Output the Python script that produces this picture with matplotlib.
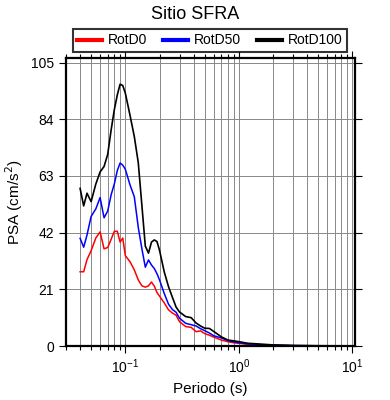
import numpy as np
import matplotlib
matplotlib.use("Agg")
import matplotlib.pyplot as plt
from matplotlib.ticker import LogLocator, FixedLocator

plt.rcParams['font.family'] = ['Liberation Sans', 'DejaVu Sans']

# periods (s)
periodo = [0.04, 0.043, 0.046, 0.05, 0.055, 0.06, 0.065, 0.07, 0.075, 0.08,
           0.085, 0.09, 0.095, 0.1, 0.11, 0.12, 0.13, 0.14, 0.15, 0.16,
           0.17, 0.18, 0.19, 0.2, 0.22, 0.24, 0.26, 0.28, 0.3, 0.34,
           0.38, 0.42, 0.46, 0.5, 0.55, 0.6, 0.7, 0.8, 0.9, 1.0,
           1.2, 1.5, 2.0, 3.0, 5.0, 7.5, 10.0]

rotd0 = [27.5, 27.5, 32.0, 35.3, 40.0, 42.3, 36.0, 36.5, 39.5, 42.5,
         42.5, 38.5, 40.0, 33.5, 31.2, 28.2, 24.5, 22.3, 21.8, 22.3,
         23.7, 22.2, 19.8, 18.5, 16.0, 13.4, 12.2, 11.4, 9.0, 7.2,
         6.9, 5.3, 5.6, 4.6, 4.0, 3.3, 2.2, 1.6, 1.2, 1.0,
         0.6, 0.4, 0.25, 0.1, 0.05, 0.03, 0.02]

rotd50 = [39.9, 36.6, 41.1, 48.0, 50.8, 55.0, 47.5, 50.0, 56.0, 60.0,
          65.0, 67.8, 67.0, 65.5, 59.7, 55.3, 44.0, 36.0, 29.2, 31.9,
          30.0, 28.7, 26.8, 24.5, 19.5, 15.5, 13.5, 12.5, 10.3, 8.4,
          7.9, 7.4, 6.4, 5.7, 4.8, 3.8, 3.0, 2.0, 1.5, 1.2,
          0.8, 0.5, 0.3, 0.15, 0.08, 0.04, 0.02]

rotd100 = [58.4, 51.9, 56.6, 53.5, 60.0, 64.5, 66.5, 71.0, 80.0, 87.5,
           93.0, 97.0, 96.5, 93.7, 85.5, 77.6, 68.0, 52.0, 37.0, 34.4,
           38.5, 39.3, 38.7, 35.5, 27.5, 22.0, 18.0, 14.4, 12.6, 10.9,
           10.5, 8.5, 7.4, 6.6, 6.5, 5.4, 3.4, 2.2, 1.9, 1.6,
           1.0, 0.75, 0.4, 0.2, 0.1, 0.05, 0.03]

y_ticks = [0, 21, 42, 63, 84, 105]

fig = plt.figure(figsize=(3.9, 4.0), dpi=100)
ax = fig.add_axes([0.169, 0.135, 0.741, 0.72])

l0, = ax.plot(periodo, rotd0, color='red', lw=1.1, label='RotD0')
l50, = ax.plot(periodo, rotd50, color='blue', lw=1.1, label='RotD50')
l100, = ax.plot(periodo, rotd100, color='black', lw=1.2, label='RotD100')

ax.set_xscale('log')
ax.set_xlim(0.03, 10.5)
ax.set_ylim(0, 106.7)
ax.yaxis.set_major_locator(FixedLocator(y_ticks))
ax.xaxis.set_major_locator(LogLocator(base=10))
ax.xaxis.set_minor_locator(LogLocator(base=10, subs=np.arange(2, 10)))

ax.grid(True, which='major', color='#888888', lw=0.7)
ax.grid(True, which='minor', axis='x', color='#888888', lw=0.7)
ax.set_axisbelow(True)

for s in ax.spines.values():
    s.set_linewidth(1.6)
ax.tick_params(which='both', direction='out', top=True, right=True,
               labelsize=10, width=0.8)
ax.tick_params(which='major', length=5)
ax.tick_params(which='minor', length=3)

ax.set_xlabel('Periodo (s)', fontsize=11)
ax.set_ylabel('PSA (cm/s$^2$)', fontsize=11)
fig.suptitle('Sitio SFRA', fontsize=13, y=0.985)

leg = fig.legend(handles=[l0, l50, l100], loc='center', ncol=3,
                 bbox_to_anchor=(0.538, 0.899), fontsize=10,
                 frameon=True, fancybox=False, handlelength=1.8,
                 columnspacing=1.1, borderpad=0.3, handletextpad=0.45,
                 borderaxespad=0.2)
leg.get_frame().set_edgecolor('black')
leg.get_frame().set_linewidth(1.5)
for h in leg.get_lines():
    h.set_linewidth(3)

fig.savefig('out.png', dpi=100)
